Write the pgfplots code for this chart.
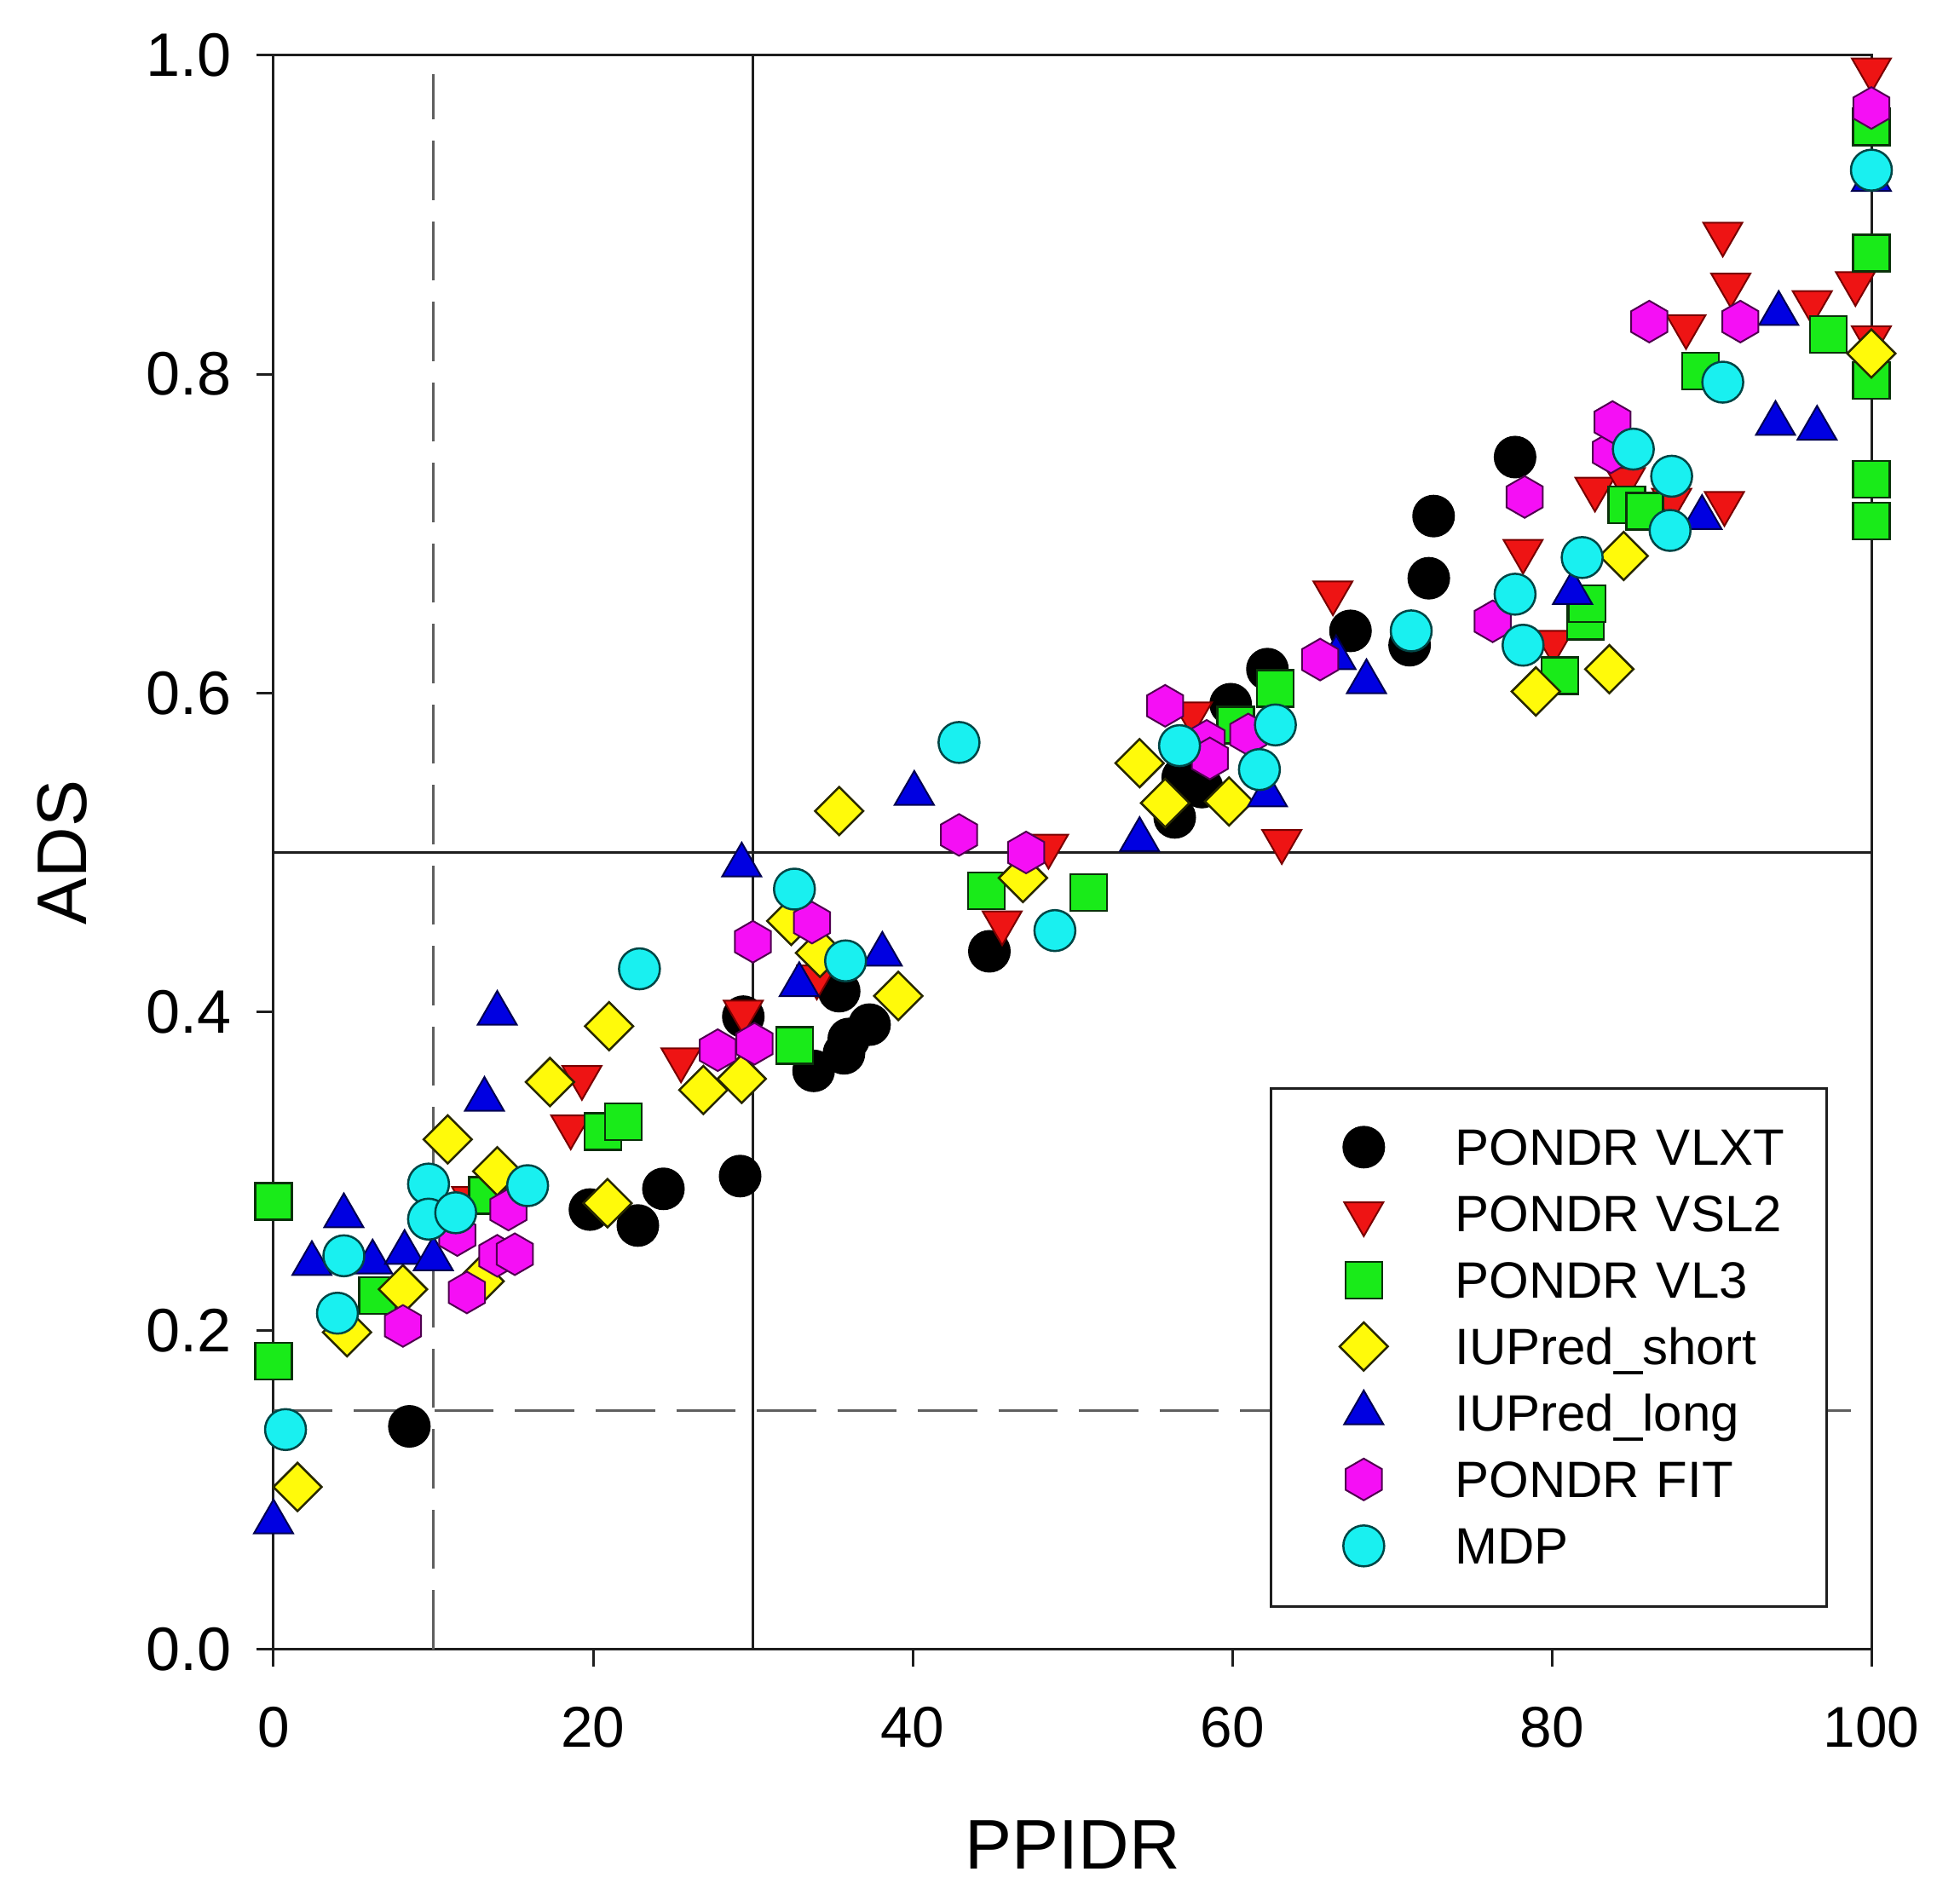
\documentclass[border=0pt]{standalone}
\usepackage{fontspec}
\setmainfont{Liberation Sans}
\usepackage{pgfplots}
\usepackage{pgfplotstable}
\pgfplotsset{compat=1.18}

\pgfdeclareplotmark{hexagon*}{%
  \pgfpathmoveto{\pgfqpointpolar{90}{\pgfplotmarksize}}%
  \pgfpathlineto{\pgfqpointpolar{150}{\pgfplotmarksize}}%
  \pgfpathlineto{\pgfqpointpolar{210}{\pgfplotmarksize}}%
  \pgfpathlineto{\pgfqpointpolar{270}{\pgfplotmarksize}}%
  \pgfpathlineto{\pgfqpointpolar{330}{\pgfplotmarksize}}%
  \pgfpathlineto{\pgfqpointpolar{30}{\pgfplotmarksize}}%
  \pgfpathclose
  \pgfusepathqfillstroke
}

\definecolor{cred}{RGB}{238,20,20}
\definecolor{credo}{RGB}{120,0,0}
\definecolor{cgreen}{RGB}{25,235,25}
\definecolor{cgreeno}{RGB}{10,50,10}
\definecolor{cyellow}{RGB}{255,250,10}
\definecolor{cyellowo}{RGB}{40,40,0}
\definecolor{cblue}{RGB}{0,0,225}
\definecolor{cblueo}{RGB}{0,0,80}
\definecolor{cmag}{RGB}{245,15,245}
\definecolor{cmago}{RGB}{80,0,80}
\definecolor{ccyan}{RGB}{25,240,240}
\definecolor{ccyano}{RGB}{0,70,70}
\definecolor{refgray}{RGB}{95,95,95}
\definecolor{frame}{RGB}{30,30,30}

\pgfplotstableread{
x y
8.5 0.140
19.8 0.276
22.8 0.266
24.4 0.289
29.2 0.297
29.4 0.397
33.8 0.363
35.4 0.413
35.7 0.374
36.0 0.383
37.3 0.392
44.8 0.438
56.4 0.522
56.9 0.547
58.1 0.541
59.9 0.593
62.2 0.615
67.4 0.639
71.1 0.630
72.3 0.672
72.6 0.711
77.7 0.748
}\vlxt

\pgfplotstableread{
x y
12.4 0.283
18.6 0.328
19.3 0.359
25.5 0.370
29.4 0.400
34.0 0.422
45.6 0.456
48.5 0.504
57.5 0.587
63.1 0.507
66.3 0.663
78.2 0.689
80.1 0.632
82.7 0.728
84.6 0.734
87.5 0.721
88.4 0.830
90.7 0.888
90.8 0.719
91.2 0.856
96.3 0.845
99.0 0.857
100 0.823
100 0.991
}\vsl

\pgfplotstableread{
x y
0 0.281
0 0.181
6.5 0.222
13.4 0.285
20.6 0.325
21.9 0.331
32.6 0.379
44.6 0.476
51.0 0.475
60.2 0.580
62.7 0.603
80.5 0.611
82.1 0.645
82.2 0.656
84.7 0.718
85.8 0.714
89.3 0.802
97.3 0.825
100 0.955
100 0.876
100 0.796
100 0.734
100 0.708
}\vlthree

\pgfplotstableread{
x y
1.5 0.102
4.6 0.199
8.1 0.226
10.9 0.320
12.9 0.231
14.0 0.300
17.3 0.356
20.9 0.280
21.0 0.391
26.9 0.351
29.3 0.358
32.4 0.457
34.2 0.437
35.4 0.526
39.1 0.410
46.9 0.484
54.2 0.556
55.8 0.531
59.8 0.532
79.0 0.601
83.6 0.615
84.5 0.686
100 0.813
}\iushort

\pgfplotstableread{
x y
0 0.080
2.4 0.242
4.4 0.272
6.2 0.243
8.2 0.249
10.0 0.245
13.2 0.345
14.0 0.399
29.3 0.492
32.9 0.417
38.1 0.436
40.1 0.537
54.2 0.508
62.2 0.536
66.5 0.622
68.4 0.607
81.3 0.663
89.4 0.710
94.0 0.769
94.2 0.838
96.6 0.766
100 0.922
}\iulong

\pgfplotstableread{
x y
8.1 0.203
11.5 0.260
12.1 0.224
14.0 0.247
14.7 0.276
15.1 0.248
27.8 0.376
30.0 0.444
30.1 0.380
33.7 0.456
42.9 0.511
47.1 0.500
55.8 0.592
58.4 0.570
58.6 0.559
61.0 0.574
65.5 0.621
76.3 0.645
78.3 0.723
83.7 0.751
83.8 0.770
86.1 0.833
91.8 0.833
100 0.967
}\fit

\pgfplotstableread{
x y
0.75 0.138
4.0 0.211
4.4 0.247
9.7 0.292
9.7 0.270
11.4 0.274
15.9 0.291
22.9 0.427
32.6 0.477
35.8 0.432
42.9 0.569
48.9 0.451
56.7 0.567
61.7 0.552
62.7 0.580
71.2 0.639
77.7 0.662
78.2 0.630
81.9 0.685
85.1 0.753
87.4 0.702
87.5 0.736
90.7 0.795
100 0.928
}\mdp

\begin{document}
\begin{tikzpicture}
\path[use as bounding box] (-64.2pt,-56.2pt) rectangle (395.8pt,387.2pt);
\begin{axis}[
  at={(0pt,0pt)}, anchor=south west,
  scale only axis, width=375pt, height=374.2pt,
  xmin=0, xmax=100, ymin=0, ymax=1,
  clip=false,
  xtick={0,20,40,60,80,100},
  ytick={0,0.2,0.4,0.6,0.8,1},
  /pgf/number format/assume math mode=true,
  xticklabel style={font=\fontsize{13.5}{13.5}\selectfont, yshift=-6pt},
  yticklabel style={font=\fontsize{14.4}{14.4}\selectfont, xshift=-2.4pt, /pgf/number format/.cd, fixed, fixed zerofill, precision=1},
  tick align=outside, tick pos=left, major tick length=4pt,
  tick style={line width=0.6pt, frame},
  axis line style={line width=0.6pt, frame},
  xlabel={PPIDR},
  xlabel style={at={(axis description cs:0.5,-0.1374)}, anchor=base, font=\fontsize{16.5}{16.5}\selectfont},
  ylabel={ADS},
  ylabel style={at={(axis description cs:-0.1168,0.5)}, anchor=base, font=\fontsize{16.5}{16.5}\selectfont},
  legend style={at={(0.6235,0.3527)}, anchor=north west, draw=frame, line width=0.5pt, fill=white,
    inner xsep=0pt, inner ysep=6.2pt, row sep=0pt, column sep=0pt,
    font=\fontsize{12}{12}\selectfont,
    nodes={inner sep=0pt, text height=11.9pt, text depth=3.7pt, text width=87.2pt, align=left}},
  legend cell align=left,
  legend image code/.code={\path[draw=none,fill=none] (-21.8pt,0.2pt) -- (21.4pt,0.2pt); \draw[#1] plot coordinates {(0pt,0.2pt)};},
]
\addplot[forget plot, refgray, line width=0.5pt, dash pattern=on 13.9pt off 5pt] coordinates {(10,0) (10,0.988)};
\addplot[forget plot, refgray, line width=0.5pt, dash pattern=on 13.9pt off 5pt] coordinates {(0,0.15) (98.7,0.15)};
\addplot[forget plot, frame, line width=0.5pt] coordinates {(30,0) (30,1)};
\addplot[forget plot, frame, line width=0.5pt] coordinates {(0,0.5) (100,0.5)};

\addplot[only marks, mark=*, mark size=4.8pt, mark options={fill=black, draw=black, line width=0.4pt}] table {\vlxt};
\addlegendentry{PONDR VLXT}
\addplot[only marks, mark=triangle*, mark size=5.3pt, mark options={fill=cred, draw=credo, line width=0.4pt, rotate=180}] table {\vsl};
\addlegendentry{PONDR VSL2}
\addplot[only marks, mark=square*, mark size=4.3pt, mark options={fill=cgreen, draw=cgreeno, line width=0.5pt}] table {\vlthree};
\addlegendentry{PONDR VL3}
\addplot[only marks, mark=square*, mark size=4.0pt, mark options={fill=cyellow, draw=cyellowo, line width=0.5pt, rotate=45}] table {\iushort};
\addlegendentry{IUPred\_short}
\addplot[only marks, mark=triangle*, mark size=5.3pt, mark options={fill=cblue, draw=cblueo, line width=0.4pt}] table {\iulong};
\addlegendentry{IUPred\_long}
\addplot[only marks, mark=hexagon*, mark size=4.9pt, mark options={fill=cmag, draw=cmago, line width=0.4pt}] table {\fit};
\addlegendentry{PONDR FIT}
\addplot[only marks, mark=*, mark size=4.8pt, mark options={fill=ccyan, draw=ccyano, line width=0.5pt}] table {\mdp};
\addlegendentry{MDP}
\end{axis}
\end{tikzpicture}
\end{document}
